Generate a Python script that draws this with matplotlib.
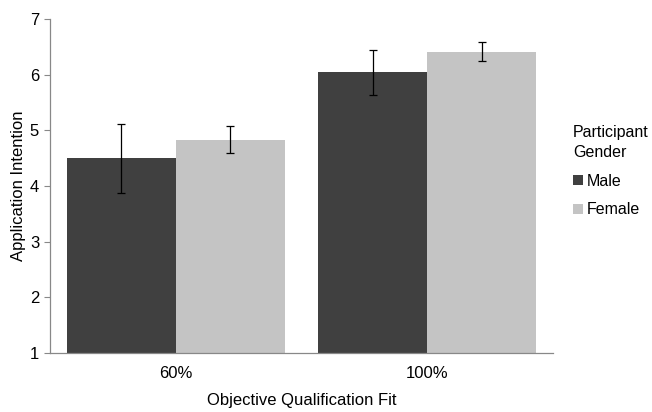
import numpy as np
import matplotlib.pyplot as plt

plt.rcParams['font.family'] = ['Liberation Sans', 'DejaVu Sans']

categories = ['60%', '100%']
groups = ['Male', 'Female']
male_means = [4.50, 6.04]
male_err = [0.62, 0.40]
female_means = [4.83, 6.41]
female_err = [0.24, 0.17]

fig = plt.figure(figsize=(6.52, 4.12), dpi=100)
ax = fig.add_axes([0.077, 0.143, 0.771, 0.811])

x = np.arange(len(categories))
w = 0.433
ebar = dict(ecolor='black', elinewidth=0.9, capsize=3, capthick=0.9)
ax.bar(x - w / 2, male_means, w, yerr=male_err, color='#404040', label='Male',
       error_kw=ebar)
ax.bar(x + w / 2, female_means, w, yerr=female_err, color='#c4c4c4', label='Female',
       error_kw=ebar)

ax.set_ylim(1, 7)
ax.set_xlim(-0.5, 1.5)
ax.set_yticks([1, 2, 3, 4, 5, 6, 7])
ax.set_xticks(x)
ax.set_xticklabels(categories)
ax.tick_params(axis='x', length=0, pad=9, labelsize=12)
ax.tick_params(axis='y', length=4, color='#888888', labelsize=12, pad=4)

for s in ['top', 'right']:
    ax.spines[s].set_visible(False)
for s in ['left', 'bottom']:
    ax.spines[s].set_color('#888888')
    ax.spines[s].set_linewidth(0.9)

ax.set_xlabel('Objective Qualification Fit', fontsize=12, labelpad=9)
ax.set_ylabel('Application Intention', fontsize=12, labelpad=3)

leg = ax.legend(title='Participant\nGender', loc='center left',
                bbox_to_anchor=(1.04, 0.545), frameon=False, fontsize=11.5,
                title_fontsize=11.5, handlelength=0.6, handleheight=0.6,
                handletextpad=0.25, labelspacing=0.85, borderpad=0,
                borderaxespad=0)
leg._legend_box.align = 'left'
leg.get_title().set_linespacing(1.45)

fig.savefig('out.png', dpi=100)
